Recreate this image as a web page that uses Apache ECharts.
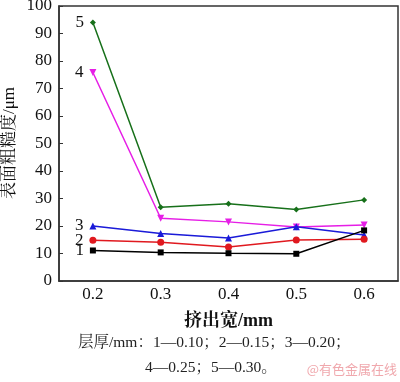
<!DOCTYPE html>
<html><head><meta charset="utf-8">
<script src="https://cdn.jsdelivr.net/npm/echarts@6/dist/echarts.min.js"></script>
<style>html,body{margin:0;padding:0;background:#fff}#c{width:400px;height:382px}</style>
</head><body><div id="c"></div>
<script>
const categories = ['0.2','0.3','0.4','0.5','0.6'];
const s1 = [11.1, 10.4, 10.1, 9.9, 18.4];
const s2 = [14.8, 14.1, 12.4, 14.9, 15.2];
const s3 = [20.0, 17.3, 15.6, 19.7, 16.7];
const s4 = [75.8, 22.8, 21.5, 19.6, 20.4];
const s5 = [94.0, 26.8, 28.1, 26.0, 29.5];
const seriesNames = ['1','2','3','4','5'];
const yMin = 0, yMax = 100, yStep = 10;
const xName = '挤出宽/mm';
const yName = '表面粗糙度/μm';
const note1 = '层厚/mm：1—0.10；2—0.15；3—0.20；';
const note2 = '4—0.25；5—0.30。';
const watermark = '@有色金属在线';

const serif = "'Liberation Serif','Noto Serif CJK SC','Noto Sans CJK SC',serif";
const colors = ['#000000','#e0191f','#1a1ad8','#e61ee6','#17701a'];
const symbols = ['rect','circle','triangle','path://M0,0 L10,0 L5,9 Z','diamond'];
const sizes = [6,7,7,7,6];
const all = [s1,s2,s3,s4,s5];

const chart = echarts.init(document.getElementById('c'));
chart.setOption({
  animation:false,
  backgroundColor:'#fff',
  grid:{left:59,right:2,top:6,bottom:101,containLabel:false,outerBoundsMode:'none',show:true,borderColor:'#333',borderWidth:1.5,backgroundColor:'transparent'},
  xAxis:{type:'category',data:categories,boundaryGap:true,
    name:xName,nameLocation:'middle',nameGap:31,
    nameTextStyle:{fontFamily:serif,fontSize:18,fontWeight:'bold',color:'#111'},
    axisLine:{lineStyle:{color:'#333',width:1.5}},
    axisTick:{inside:true,alignWithLabel:true,length:4,lineStyle:{color:'#333'}},
    axisLabel:{fontFamily:serif,fontSize:17,color:'#111',margin:5},
    splitLine:{show:false}},
  yAxis:{type:'value',min:yMin,max:yMax,interval:yStep,
    axisLine:{show:true,lineStyle:{color:'#333',width:1.5}},
    axisTick:{show:true,inside:true,length:4,lineStyle:{color:'#333'}},
    axisLabel:{fontFamily:serif,fontSize:17,color:'#111',margin:7},
    splitLine:{show:false}},
  series: all.map((d,i)=>({
    name:seriesNames[i],type:'line',
    data:d.map((v,j)=> j===0 ? {value:v,label:{show:true,position:'left',distance:6,formatter:seriesNames[i],fontFamily:serif,fontSize:17,color:'#111'}} : v),
    symbol:symbols[i],symbolSize:sizes[i],
    lineStyle:{color:colors[i],width:1.5},
    itemStyle:{color:colors[i]},
    z: 10-i
  })),
  graphic:[
    {type:'text',x:10,y:143,rotation:Math.PI/2,style:{text:yName,font:"17px "+serif,fill:'#111',align:'center',verticalAlign:'middle'}},
    {type:'text',left:78,top:335,style:{text:note1,font:"15.5px "+serif,fill:'#222'}},
    {type:'text',left:145,top:360,style:{text:note2,font:"15.5px "+serif,fill:'#222'}},
    {type:'text',right:3,top:363,style:{text:watermark,font:"13px 'Noto Sans CJK SC',sans-serif",fill:'#f0a8ad'}}
  ]
});
</script></body></html>
